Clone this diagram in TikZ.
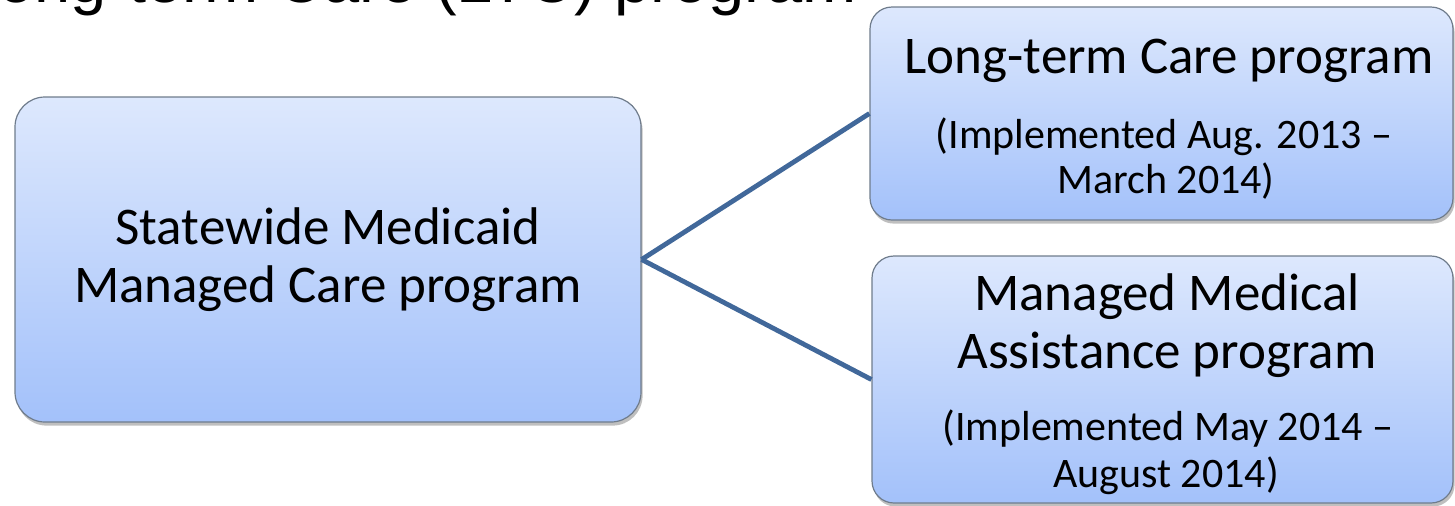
\documentclass[tikz,border=0pt]{standalone}
\usepackage{fontspec}
\setmainfont{Carlito}
\newfontfamily\titlefont{Liberation Sans}
\usetikzlibrary{shadows}
\definecolor{boxtop}{HTML}{DDE8FD}
\definecolor{boxbottom}{HTML}{A3C1FA}
\definecolor{boxline}{HTML}{6F7C8C}
\definecolor{linkblue}{HTML}{41689A}
\tikzset{
progbox/.style={draw=boxline, line width=0.6pt, rounded corners=11pt,
  top color=boxtop, bottom color=boxbottom, inner sep=0pt,
  drop shadow={shadow xshift=0.8pt, shadow yshift=-1.8pt, opacity=0.5}},
bigtext/.style={font=\fontsize{26.5}{29}\selectfont, inner sep=0pt},
smalltext/.style={font=\fontsize{21}{23}\selectfont, anchor=base, inner sep=0pt},
link/.style={draw=linkblue, line width=2.4pt}
}
\begin{document}
\begin{tikzpicture}[x=0.5pt,y=-0.5pt]
\useasboundingbox (0,0) rectangle (1455,505);
% title of the slide, cut off at the top
\node[font=\titlefont\fontsize{32.5}{36}\selectfont, anchor=base east, inner sep=0pt] (slidetitle) at (857,2) {Long-term Care (LTC) program};
% the three programs
\node[progbox, rounded corners=15pt, minimum width=313pt, minimum height=162.5pt,
  bigtext, align=center] (smmc) at (328,259.5) {Statewide Medicaid\\Managed Care program};
\node[progbox, minimum width=291.5pt, minimum height=106.5pt] (ltc) at (1161.5,113.5) {};
\node[progbox, minimum width=290.5pt, minimum height=123.5pt] (mma) at (1162.5,379.5) {};
\node[bigtext, anchor=base] (ltctitle) at (1169,73) {Long-term Care program};
\node[smalltext] (ltcdate) at (1164,148) {(Implemented Aug. 2013 --};
\node[smalltext] (ltcend) at (1166,193) {March 2014)};
\node[bigtext, anchor=base] (mmatitle) at (1167,310) {Managed Medical};
\node[bigtext, anchor=base] (mmasub) at (1167,368) {Assistance program};
\node[smalltext] (mmadate) at (1168,440) {(Implemented May 2014 --};
\node[smalltext] (mmaend) at (1166,487) {August 2014)};
% connectors
\draw[link] (smmc.east) -- (ltc.west);
\draw[link] (smmc.east) -- (mma.west);
\end{tikzpicture}
\end{document}
